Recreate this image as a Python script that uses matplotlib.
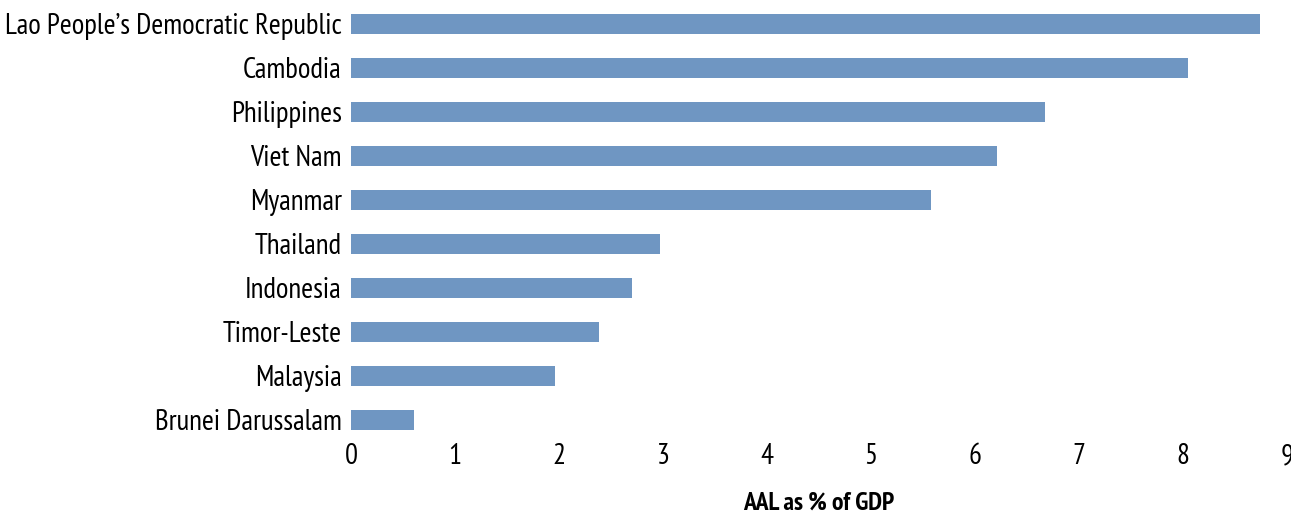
import matplotlib
matplotlib.use("Agg")
import matplotlib.pyplot as plt

countries = ["Lao People\u2019s Democratic Republic", "Cambodia", "Philippines", "Viet Nam",
             "Myanmar", "Thailand", "Indonesia", "Timor-Leste", "Malaysia", "Brunei Darussalam"]
aal_pct_gdp = [8.74, 8.05, 6.67, 6.21, 5.58, 2.97, 2.70, 2.38, 1.96, 0.61]
xticks = [0, 1, 2, 3, 4, 5, 6, 7, 8, 9]
xlabel = "AAL as % of GDP"

plt.rcParams["font.family"] = ["PT Sans Narrow", "DejaVu Sans"]

fig = plt.figure(figsize=(12.91, 5.14), dpi=100)
ax = fig.add_axes([351/1291, 72/514, 936/1291, 440/514])

ypos = list(range(len(countries)))[::-1]
ax.barh(ypos, aal_pct_gdp, height=0.45, color="#6F96C2")
ax.set_ylim(-0.5, len(countries) - 0.5)
ax.set_xlim(0, 9)
ax.set_yticks(ypos)
ax.set_yticklabels(countries, fontsize=20.7)
ax.set_xticks(xticks)
ax.set_xticklabels([str(t) for t in xticks], fontsize=20.7)
ax.tick_params(axis="both", length=0)
ax.tick_params(axis="y", pad=6.5)
ax.tick_params(axis="x", pad=1)
for s in ax.spines.values():
    s.set_visible(False)
ax.set_xlabel(xlabel, fontsize=18.5, fontweight="bold", labelpad=15.5)

fig.savefig("out.png", dpi=100)
